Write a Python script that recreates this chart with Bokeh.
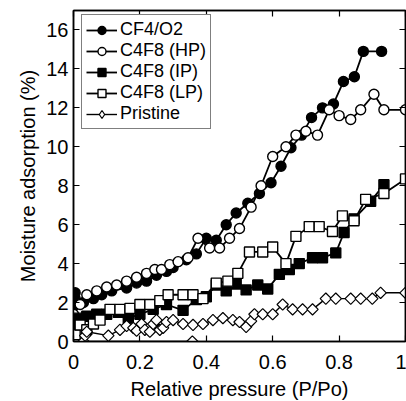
import math
from bokeh.plotting import figure
from bokeh.models import LinearAxis, FixedTicker, NumeralTickFormatter, Range1d, LegendItem, Legend
from bokeh.embed import file_html
from bokeh.resources import INLINE

# ---- data ----
cf4_x = [0.005, 0.005, 0.005, 0.03, 0.06, 0.085, 0.115, 0.16, 0.19, 0.22, 0.25, 0.28, 0.30,
         0.34, 0.37, 0.40, 0.43, 0.46, 0.49, 0.525, 0.56, 0.595, 0.625, 0.655, 0.687, 0.717,
         0.75, 0.783, 0.813, 0.846, 0.873, 0.928]
cf4_y = [2.5, 2.2, 1.9, 2.0, 2.2, 2.4, 2.6, 2.75, 3.0, 3.1, 3.4, 3.6, 3.8,
         4.2, 4.5, 5.3, 5.2, 6.0, 6.6, 7.1, 7.6, 8.15, 9.0, 9.95, 10.6, 11.5,
         12.0, 12.2, 13.35, 13.6, 14.9, 14.9]

hp_x = [0.0, 0.02, 0.04, 0.07, 0.10, 0.13, 0.16, 0.19, 0.22, 0.245, 0.265, 0.29, 0.315, 0.345,
        0.375, 0.41, 0.44, 0.47, 0.50, 0.535, 0.565, 0.60, 0.64, 0.67, 0.70, 0.735, 0.77,
        0.80, 0.835, 0.865, 0.905, 0.935, 1.0]
hp_y = [1.4, 1.9, 2.4, 2.6, 2.8, 2.9, 3.1, 3.3, 3.5, 3.7, 3.7, 3.95, 4.1, 4.3,
        5.3, 4.8, 4.8, 5.3, 5.8, 6.9, 8.0, 9.5, 10.0, 10.6, 10.8, 10.6, 11.9,
        11.6, 11.4, 11.9, 12.7, 11.9, 11.9]

ip_x = [0.005, 0.01, 0.04, 0.07, 0.10, 0.135, 0.165, 0.20, 0.24, 0.28, 0.33, 0.37, 0.40,
        0.43, 0.46, 0.49, 0.52, 0.555, 0.585, 0.62, 0.65, 0.68, 0.72, 0.75, 0.79, 0.815,
        0.845, 0.895, 0.935]
ip_y = [0.9, 1.2, 1.3, 1.4, 1.4, 1.5, 1.2, 1.4, 1.65, 1.9, 1.6, 2.15, 2.3,
        2.9, 2.6, 2.95, 2.65, 2.9, 2.7, 3.45, 3.7, 4.0, 4.3, 4.3, 4.55, 5.6,
        6.3, 7.2, 8.05]

lp_x = [0.005, 0.02, 0.04, 0.06, 0.08, 0.11, 0.14, 0.17, 0.20, 0.23, 0.26, 0.285, 0.33, 0.36,
        0.39, 0.43, 0.465, 0.495, 0.53, 0.57, 0.60, 0.64, 0.67, 0.71, 0.74, 0.78, 0.81,
        0.845, 0.88, 0.935, 1.0]
lp_y = [0.35, 0.85, 0.6, 0.9, 1.1, 1.65, 1.65, 1.7, 1.9, 1.9, 2.1, 2.4, 2.4, 2.4,
        2.2, 3.0, 3.1, 3.5, 4.6, 4.6, 4.85, 4.0, 5.4, 5.9, 5.9, 5.65, 6.45,
        6.2, 7.3, 7.6, 8.35]

pr_x = [0.358, 0.03, 0.035, 0.04, 0.105, 0.14, 0.16, 0.18, 0.19, 0.205, 0.215, 0.23, 0.24,
        0.25, 0.26, 0.27, 0.28, 0.30, 0.33, 0.36, 0.39, 0.42, 0.45, 0.48, 0.50, 0.52, 0.535,
        0.545, 0.57, 0.60, 0.63, 0.66, 0.69, 0.72, 0.76, 0.79, 0.835, 0.865, 0.90, 0.925, 1.0]
pr_y = [0.0, 0.0, 0.3, 0.5, 0.3, 0.6, 0.8, 0.7, 0.55, 0.9, 0.6, 0.5, 0.9,
        1.1, 0.6, 0.7, 1.0, 1.1, 0.9, 0.85, 0.9, 1.1, 1.2, 1.1, 1.0, 0.75, 1.05,
        1.4, 1.4, 1.4, 1.9, 1.65, 1.65, 1.65, 2.2, 2.2, 2.2, 2.2, 2.2, 2.5, 2.5]

labels = ["CF4/O2", "C4F8 (HP)", "C4F8 (IP)", "C4F8 (LP)", "Pristine"]
x_ticks = [0, 0.2, 0.4, 0.6, 0.8, 1.0]
y_ticks = [0, 2, 4, 6, 8, 10, 12, 14, 16]

FONT = "Liberation Sans"

p = figure(frame_width=332, frame_height=331,
           x_range=Range1d(0, 1), y_range=Range1d(0, 17),
           output_backend="svg", toolbar_location=None,
           min_border_left=73, min_border_right=1, min_border_top=10, min_border_bottom=61,
           background_fill_color="white", border_fill_color="white")
p.grid.visible = False
p.outline_line_color = "black"
p.outline_line_width = 1.5

def style_axis(ax, ticks, show_labels):
    ax.ticker = FixedTicker(ticks=ticks)
    ax.major_tick_in = 6
    ax.major_tick_out = 0
    ax.minor_tick_in = 0
    ax.minor_tick_out = 0
    ax.axis_line_color = "black"
    ax.axis_line_width = 1.5
    ax.major_tick_line_width = 1.2
    ax.major_tick_line_color = "black"
    if show_labels:
        ax.major_label_text_font = FONT
        ax.major_label_text_font_size = "20px"
        ax.major_label_text_color = "black"
        ax.axis_label_text_font = FONT
        ax.axis_label_text_font_size = "20px"
        ax.axis_label_text_font_style = "normal"
        ax.axis_label_text_color = "black"
    else:
        ax.major_label_text_font_size = "0px"
        ax.major_label_text_color = None
        ax.major_label_standoff = 0

xa = p.xaxis[0]
style_axis(xa, x_ticks, True)
xa.formatter = NumeralTickFormatter(format="0.[0]")
xa.axis_label = "Relative pressure (P/Po)"
xa.major_label_standoff = 13
xa.axis_label_standoff = 6

ya = p.yaxis[0]
style_axis(ya, y_ticks, True)
ya.axis_label = "Moisture adsorption (%)"
ya.major_label_standoff = 5
ya.axis_label_standoff = 4

top = LinearAxis()
style_axis(top, x_ticks, False)
p.add_layout(top, "above")
right = LinearAxis()
style_axis(right, y_ticks, False)
p.add_layout(right, "right")

LW = 1.8
MLW = 1.4

l1 = p.line(cf4_x, cf4_y, line_color="black", line_width=LW)
s1 = p.scatter(cf4_x, cf4_y, marker="circle", size=10, fill_color="black", line_color="black",
               line_width=MLW)

l2 = p.line(hp_x, hp_y, line_color="black", line_width=LW)
s2 = p.scatter(hp_x, hp_y, marker="circle", size=10, fill_color="white", line_color="black",
               line_width=MLW)

l3 = p.line(ip_x, ip_y, line_color="black", line_width=LW)
s3 = p.scatter(ip_x, ip_y, marker="square", size=10, fill_color="black", line_color="black",
               line_width=MLW)

l4 = p.line(lp_x, lp_y, line_color="black", line_width=LW)
s4 = p.scatter(lp_x, lp_y, marker="square", size=10, fill_color="white", line_color="black",
               line_width=MLW)

l5 = p.line(pr_x, pr_y, line_color="black", line_width=1.4)
s5 = p.scatter(pr_x, pr_y, marker="square", angle=math.pi / 4, size=8, fill_color="white",
               line_color="black", line_width=1.2)
# legend-only glyph for the diamond symbol (legend ignores marker angle)
s5_leg = p.scatter(pr_x, pr_y, marker="diamond", size=12, fill_color="white",
                   line_color="black", line_width=1.2, visible=False)

items = [LegendItem(label=labels[0], renderers=[l1, s1]),
         LegendItem(label=labels[1], renderers=[l2, s2]),
         LegendItem(label=labels[2], renderers=[l3, s3]),
         LegendItem(label=labels[3], renderers=[l4, s4]),
         LegendItem(label=labels[4], renderers=[l5, s5_leg])]
lg = Legend(items=items)
p.add_layout(lg, "center")
lg.location = (8, 212)
lg.label_text_font = FONT
lg.label_text_font_size = "18px"
lg.label_text_color = "black"
lg.glyph_width = 31
lg.glyph_height = 20
lg.label_height = 20
lg.label_standoff = 3
lg.spacing = 0
lg.padding = 4
lg.margin = 0
lg.border_line_color = "black"
lg.border_line_width = 1.2
lg.background_fill_color = "white"
lg.background_fill_alpha = 1.0
lg.inactive_fill_alpha = 0.0

open("out.html", "w").write(file_html(p, INLINE))
